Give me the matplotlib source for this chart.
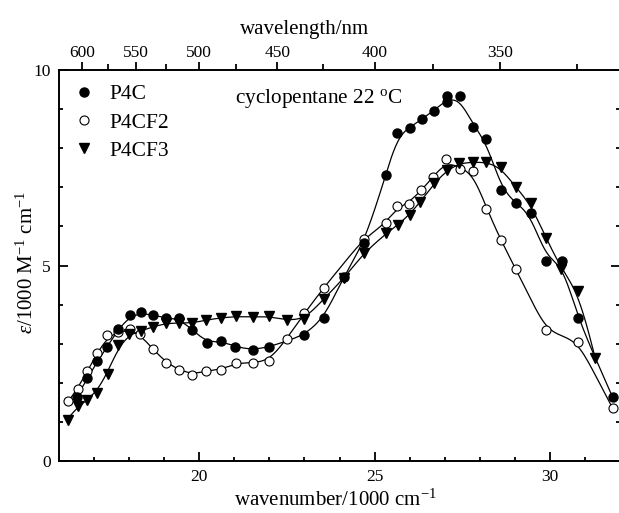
import numpy as np
import matplotlib
matplotlib.use("Agg")
import matplotlib.pyplot as plt
from matplotlib.ticker import FixedLocator, NullFormatter

plt.rcParams["font.family"] = ["Liberation Serif", "DejaVu Serif"]
plt.rcParams["mathtext.fontset"] = "custom"
plt.rcParams["mathtext.rm"] = "Liberation Serif"
plt.rcParams["mathtext.it"] = "Liberation Serif:italic"

# wavenumber in 1000 cm^-1, extinction coefficient in 1000 M^-1 cm^-1
p4c_x = [16.5, 16.81, 17.09, 17.38, 17.68, 18.03, 18.34, 18.68, 19.06, 19.42,
         19.80, 20.21, 20.62, 21.03, 21.52, 22.0, 22.99, 23.55, 24.12, 24.69,
         25.33, 25.64, 26.01, 26.36, 26.69, 27.06, 27.06, 27.44, 27.81, 28.19,
         28.6, 29.02, 29.46, 29.89, 30.34, 30.8, 31.79]
p4c_y = [1.64, 2.11, 2.56, 2.91, 3.38, 3.73, 3.80, 3.73, 3.65, 3.66,
         3.36, 3.01, 3.08, 2.92, 2.84, 2.92, 3.22, 3.65, 4.71, 5.57,
         7.31, 8.40, 8.52, 8.75, 8.96, 9.19, 9.33, 9.34, 8.53, 8.24,
         6.93, 6.60, 6.34, 5.12, 5.12, 3.65, 1.63]

p4cf2_x = [16.25, 16.53, 16.81, 17.08, 17.37, 17.68, 18.02, 18.31, 18.68, 19.06,
           19.43, 19.79, 20.2, 20.62, 21.05, 21.52, 22.0, 22.49, 23.0, 23.55,
           24.69, 25.33, 25.64, 25.98, 26.33, 26.68, 27.05, 27.43, 27.81, 28.19,
           28.6, 29.02, 29.89, 30.8, 31.79]
p4cf2_y = [1.53, 1.83, 2.30, 2.75, 3.21, 3.30, 3.38, 3.25, 2.86, 2.50,
           2.33, 2.20, 2.31, 2.33, 2.51, 2.51, 2.56, 3.12, 3.78, 4.43,
           5.68, 6.08, 6.52, 6.57, 6.93, 7.26, 7.72, 7.48, 7.42, 6.45,
           5.65, 4.92, 3.35, 3.05, 1.35]

p4cf3_x = [16.25, 16.53, 16.81, 17.09, 17.39, 17.69, 18.01, 18.34, 18.68, 19.06,
           19.43, 19.80, 20.2, 20.62, 21.05, 21.52, 22.0, 22.49, 23.0, 23.55,
           24.12, 24.69, 25.33, 25.67, 26.0, 26.31, 26.69, 27.06, 27.42, 27.8,
           28.19, 28.6, 29.02, 29.45, 29.89, 30.33, 30.8, 31.29]
p4cf3_y = [1.05, 1.41, 1.56, 1.75, 2.23, 2.97, 3.26, 3.33, 3.43, 3.53,
           3.53, 3.52, 3.61, 3.66, 3.70, 3.68, 3.70, 3.60, 3.62, 4.14,
           4.67, 5.31, 5.82, 6.04, 6.29, 6.63, 7.10, 7.44, 7.63, 7.64,
           7.65, 7.52, 7.00, 6.59, 5.70, 4.90, 4.36, 2.63]

series_labels = ["P4C", "P4CF2", "P4CF3"]

x_ticks_major = [20, 25, 30]
y_ticks_major = [0, 5, 10]
wavelength_major = [600, 550, 500, 450, 400, 350]
wavelength_minor = [575, 525, 475, 425, 375, 325]


def smooth_curve(x, y, sigma=0.22, n=500):
    """Local-linear Gaussian smoothing of the piecewise-linear data trace."""
    x = np.asarray(x, float)
    y = np.asarray(y, float)
    ux = np.unique(x)
    uy = np.array([y[x == u].mean() for u in ux])
    xs = np.linspace(ux.min(), ux.max(), n)
    yd = np.interp(xs, ux, uy)
    out = np.empty_like(xs)
    for i, x0 in enumerate(xs):
        w = np.exp(-0.5 * ((xs - x0) / sigma) ** 2)
        sw = w.sum()
        mx = (w * xs).sum() / sw
        my = (w * yd).sum() / sw
        var = (w * (xs - mx) ** 2).sum()
        cov = (w * (xs - mx) * (yd - my)).sum()
        out[i] = my + cov / var * (x0 - mx)
    return xs, out


W, H = 619, 513
fig = plt.figure(figsize=(W / 100, H / 100), dpi=100)
ax = fig.add_axes([59 / W, 52 / H, 561 / W, 391 / H])

line_kw = dict(color="black", lw=0.9, zorder=2)
for xs_, ys_ in [(p4c_x, p4c_y), (p4cf2_x, p4cf2_y), (p4cf3_x, p4cf3_y)]:
    sx, sy = smooth_curve(xs_, ys_)
    ax.plot(sx, sy, **line_kw)

ax.plot(p4c_x, p4c_y, "o", ms=6.5, mfc="black", mec="black", ls="none",
        zorder=4, label=series_labels[0])
ax.plot(p4cf2_x, p4cf2_y, "o", ms=6.5, mfc="white", mec="black", mew=0.8,
        ls="none", zorder=3, label=series_labels[1])
ax.plot(p4cf3_x, p4cf3_y, "v", ms=7.2, mfc="black", mec="black", ls="none",
        zorder=4, label=series_labels[2])

ax.set_xlim(16, 32)
ax.set_ylim(0, 10)

for sp in ax.spines.values():
    sp.set_linewidth(1.4)

ax.xaxis.set_major_locator(FixedLocator(x_ticks_major))
ax.xaxis.set_minor_locator(FixedLocator([v for v in range(17, 32) if v not in x_ticks_major]))
ax.yaxis.set_major_locator(FixedLocator(y_ticks_major))
ax.yaxis.set_minor_locator(FixedLocator([1, 2, 3, 4, 6, 7, 8, 9]))
ax.tick_params(which="both", direction="in", top=True, right=True, width=1.3,
               labelsize=12.5)
ax.tick_params(which="major", length=6.5, pad=6)
ax.tick_params(which="minor", length=3.2)
ax.tick_params(axis="x", labeltop=False)

ax.set_xlabel("wavenumber/1000 cm$^{-1}$", fontsize=15, labelpad=0)
ax.xaxis.set_label_coords((335 - 59) / 561, -(500 - 461) / 391)
ax.xaxis.label.set_va("center")
ax.set_ylabel(r"$\mathit{ε}$/1000 M$^{-1}$ cm$^{-1}$", fontsize=15)
ax.yaxis.set_label_coords(-(59 - 27) / 561, (461 - 262) / 391)
ax.yaxis.label.set_va("center")

# wavelength scale on top
top = ax.twiny()
top.set_xlim(ax.get_xlim())
top.xaxis.set_major_locator(FixedLocator([1e4 / w for w in wavelength_major]))
top.set_xticklabels([str(w) for w in wavelength_major])
top.xaxis.set_minor_locator(FixedLocator([1e4 / w for w in wavelength_minor]))
top.xaxis.set_minor_formatter(NullFormatter())
top.tick_params(which="both", direction="out", width=1.3, labelsize=12.5)
top.tick_params(which="major", length=5.8, pad=0.8)
top.tick_params(which="minor", length=4)
for sp in top.spines.values():
    sp.set_visible(False)
top.set_xlabel("wavelength/nm", fontsize=15)
top.xaxis.set_label_coords((305 - 59) / 561, (461 - 29) / 391)
top.xaxis.label.set_va("center")

ax.legend(loc="upper left", bbox_to_anchor=(7 / 561, 1 - 10 / 391), frameon=False,
          fontsize=15.5, handletextpad=0.5, labelspacing=0.38,
          handlelength=1.3, borderaxespad=0.0, borderpad=0.2)

fig.text(235 / W, 1 - 103 / H, "cyclopentane 22 $^{\\mathrm{o}}$C", fontsize=15.3,
         ha="left", va="baseline")

fig.savefig("out.png", dpi=100)
